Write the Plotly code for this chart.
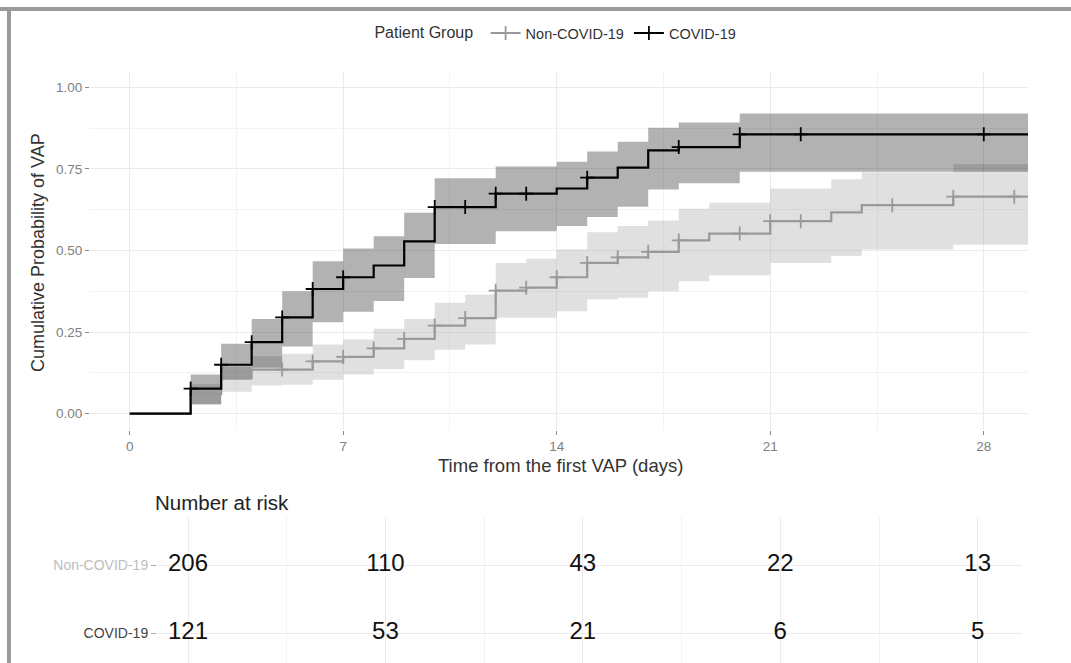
import plotly.graph_objects as go

# ---------------- data ----------------
covid_time = [0, 2, 3, 4, 5, 6, 7, 8, 9, 10, 12, 14, 15, 16, 17, 18, 20, 29.5]
covid_cum = [0, 0.077, 0.15, 0.219, 0.295, 0.382, 0.418, 0.454, 0.528, 0.633, 0.674, 0.690, 0.723, 0.754, 0.807, 0.817, 0.856, 0.856]
covid_upper = [0, 0.12, 0.214, 0.29, 0.375, 0.467, 0.506, 0.544, 0.616, 0.721, 0.757, 0.772, 0.803, 0.833, 0.876, 0.892, 0.92, 0.92]
covid_lower = [0, 0.028, 0.104, 0.141, 0.206, 0.28, 0.312, 0.345, 0.416, 0.52, 0.559, 0.575, 0.603, 0.634, 0.687, 0.706, 0.741, 0.741]
covid_censor = [2, 3, 4, 5, 6, 7, 10, 11, 12, 13, 15, 18, 20, 22, 28]

noncovid_time = [0, 2, 3, 4, 5, 6, 7, 8, 9, 10, 11, 12, 13, 14, 15, 16, 17, 18, 19, 21, 23, 24, 27, 29.5]
noncovid_cum = [0, 0.06, 0.11, 0.135, 0.135, 0.16, 0.174, 0.2, 0.229, 0.27, 0.293, 0.377, 0.386, 0.418, 0.462, 0.479, 0.496, 0.531, 0.552, 0.59, 0.617, 0.639, 0.665, 0.665]
noncovid_upper = [0, 0.09, 0.144, 0.176, 0.184, 0.212, 0.227, 0.26, 0.29, 0.34, 0.365, 0.462, 0.475, 0.503, 0.556, 0.575, 0.592, 0.628, 0.646, 0.69, 0.718, 0.74, 0.764, 0.764]
noncovid_lower = [0, 0.03, 0.067, 0.086, 0.089, 0.104, 0.12, 0.137, 0.164, 0.196, 0.212, 0.294, 0.294, 0.314, 0.35, 0.355, 0.375, 0.406, 0.424, 0.462, 0.483, 0.503, 0.518, 0.518]
noncovid_censor = [5, 6, 7, 8, 9, 10, 11, 12, 13, 14, 15, 16, 17, 18, 20, 21, 22, 25, 27, 29]

risk_times = [0, 7, 14, 21, 28]
risk_noncovid = [206, 110, 43, 22, 13]
risk_covid = [121, 53, 21, 6, 5]

x_ticks = [0, 7, 14, 21, 28]
y_ticks = [0, 0.25, 0.5, 0.75, 1.0]
y_ticktext = ["0.00", "0.25", "0.50", "0.75", "1.00"]

# ---------------- helpers ----------------
W, H = 1071, 663


def step_at(times, vals, t):
    v = vals[0]
    for ti, vi in zip(times, vals):
        if ti <= t:
            v = vi
    return v


FONT = "Liberation Sans, Arial, sans-serif"
fig = go.Figure()

groups = [
    ("Non-COVID-19", noncovid_time, noncovid_cum, noncovid_upper, noncovid_lower, noncovid_censor,
     "#999999", "rgba(153,153,153,0.3)"),
    ("COVID-19", covid_time, covid_cum, covid_upper, covid_lower, covid_censor,
     "#000000", "rgba(0,0,0,0.3)"),
]

for name, t, cum, up, lo, cens, col, fillc in groups:
    fig.add_trace(go.Scatter(x=t, y=up, mode="lines", line=dict(width=0, shape="hv"),
                             showlegend=False, hoverinfo="skip"))
    fig.add_trace(go.Scatter(x=t, y=lo, mode="lines", line=dict(width=0, shape="hv"),
                             fill="tonexty", fillcolor=fillc, showlegend=False, hoverinfo="skip"))

for name, t, cum, up, lo, cens, col, fillc in groups:
    fig.add_trace(go.Scatter(x=t, y=cum, mode="lines", line=dict(color=col, width=2.2, shape="hv"),
                             name=name, showlegend=False))
    fig.add_trace(go.Scatter(x=cens, y=[step_at(t, cum, c) for c in cens], mode="markers",
                             marker=dict(symbol="cross-thin", size=10, line=dict(color=col, width=1.8)),
                             showlegend=False, hoverinfo="skip"))
    fig.add_trace(go.Scatter(x=[None], y=[None], mode="lines+markers", name=name,
                             line=dict(color=col, width=2),
                             marker=dict(symbol="cross-thin", size=10, line=dict(color=col, width=1.8))))

# risk table
fig.add_trace(go.Scatter(x=risk_times, y=[2] * len(risk_times), mode="text",
                         text=[str(v) for v in risk_noncovid], xaxis="x2", yaxis="y2",
                         textfont=dict(size=24, color="#111111", family=FONT), showlegend=False))
fig.add_trace(go.Scatter(x=risk_times, y=[1] * len(risk_times), mode="text",
                         text=[str(v) for v in risk_covid], xaxis="x2", yaxis="y2",
                         textfont=dict(size=24, color="#111111", family=FONT), showlegend=False))

grid = "#ebebeb"
minor_grid = "#f3f3f3"

fig.update_layout(
    width=W, height=H,
    margin=dict(l=0, r=0, t=0, b=0),
    paper_bgcolor="white", plot_bgcolor="white",
    font=dict(family=FONT, color="#333333"),
    xaxis=dict(domain=[90 / W, 1028 / W], range=[-1.3, 29.45], tickvals=x_ticks,
               ticks="outside", ticklen=4, tickcolor="#888888", showgrid=True, gridcolor=grid,
               gridwidth=1, zeroline=False, showline=False,
               tickfont=dict(size=13.5, color="#7f7f7f"),
               minor=dict(dtick=3.5, tick0=0, showgrid=True, gridcolor=minor_grid, gridwidth=0.8)),
    yaxis=dict(domain=[1 - 430 / H, 1 - 71 / H], range=[-0.05, 1.05], tickvals=y_ticks,
               ticktext=y_ticktext, ticks="outside", ticklen=4, tickcolor="#888888",
               showgrid=True, gridcolor=grid, gridwidth=1, zeroline=False, showline=False,
               tickfont=dict(size=13.5, color="#7f7f7f"),
               minor=dict(dtick=0.125, tick0=0, showgrid=True, gridcolor=minor_grid, gridwidth=0.8)),
    xaxis2=dict(domain=[157 / W, 1022 / W], range=[-1.1, 29.57], tickvals=x_ticks,
                showticklabels=False, showgrid=True, gridcolor=grid, zeroline=False,
                anchor="y2",
                minor=dict(dtick=3.5, tick0=0, showgrid=True, gridcolor=minor_grid, gridwidth=0.8)),
    yaxis2=dict(domain=[0, 1 - 517 / H], range=[0.559, 2.706], tickvals=[2, 1],
                ticktext=["<span style='color:#bdbdbd'>Non-COVID-19</span>",
                          "<span style='color:#444444'>COVID-19</span>"],
                ticks="outside", ticklen=5, tickcolor="#aaaaaa", showgrid=True, gridcolor=grid,
                zeroline=False, anchor="x2", tickfont=dict(size=14)),
    legend=dict(orientation="h", x=0.52, xanchor="center", y=1 - 33 / H, yanchor="middle",
                traceorder="normal",
                title=dict(text="Patient Group ", font=dict(size=16, color="#333333")),
                font=dict(size=14.5, color="#333333"), bgcolor="rgba(0,0,0,0)",
                itemwidth=30),
    annotations=[
        dict(text="Cumulative Probability of VAP", x=38 / W, y=1 - 253 / H, xref="paper",
             yref="paper", textangle=-90, showarrow=False, font=dict(size=18, color="#333333"),
             xanchor="center", yanchor="middle"),
        dict(text="Time from the first VAP (days)", x=560 / W, y=1 - 466 / H, xref="paper",
             yref="paper", showarrow=False, font=dict(size=18.5, color="#333333"),
             xanchor="center", yanchor="middle"),
        dict(text="Number at risk", x=153 / W, y=1 - 502 / H, xref="paper", yref="paper",
             showarrow=False, font=dict(size=20.5, color="#222222"), xanchor="left",
             yanchor="middle"),
    ],
    shapes=[
        dict(type="rect", xref="paper", yref="paper", x0=0, x1=1, y0=1 - 11 / H, y1=1 - 7 / H,
             fillcolor="#9a9a9a", line=dict(width=0)),
        dict(type="rect", xref="paper", yref="paper", x0=7 / W, x1=11 / W, y0=0, y1=1 - 7 / H,
             fillcolor="#9a9a9a", line=dict(width=0)),
    ],
)

fig.write_html("out.html", config={"displayModeBar": False},
               post_script="document.body.style.margin='0';")
